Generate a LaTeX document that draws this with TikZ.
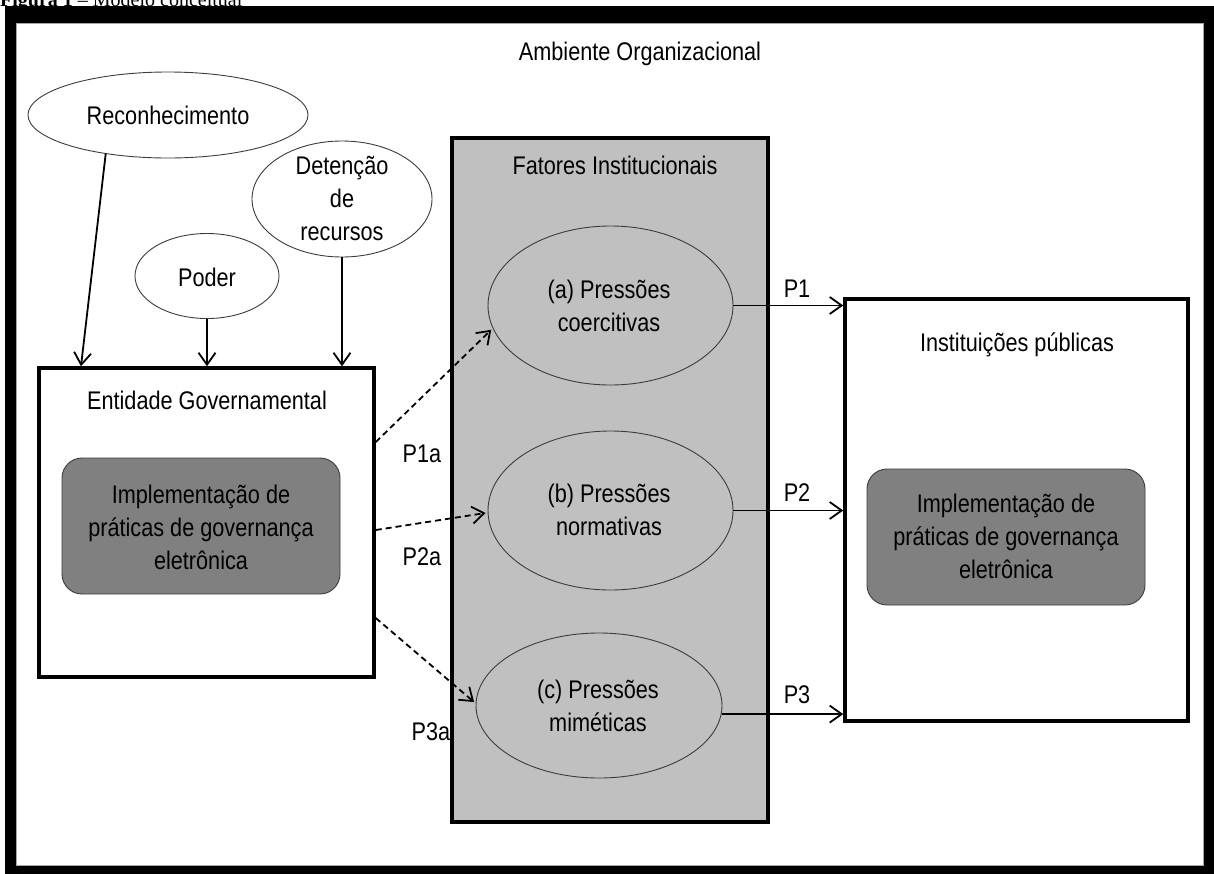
\documentclass[tikz,border=0pt]{standalone}
\usepackage{fontspec}
\setmainfont{Liberation Sans}[FakeStretch=0.85]
\newfontfamily\capfont{Liberation Serif}
\usetikzlibrary{shapes.geometric,arrows.meta,calc}
\definecolor{grayfi}{RGB}{192,192,192}
\definecolor{implgray}{RGB}{128,128,128}
\definecolor{edgegray}{RGB}{60,60,60}
\begin{document}
\begin{tikzpicture}[x=1pt,y=-1pt,
  txt/.style={font=\fontsize{25.5}{33}\selectfont, inner sep=0pt, align=center},
  ell/.style={ellipse, draw=edgegray, line width=0.9pt, inner sep=0pt},
  whiteell/.style={ell, fill=white},
  grayell/.style={ell, fill=grayfi},
  bigbox/.style={rectangle, draw=black, line width=3.5pt, fill=white, inner sep=0pt},
  implbox/.style={rectangle, rounded corners=20pt, draw=edgegray, line width=0.9pt, fill=implgray, inner sep=0pt, minimum width=278pt, minimum height=136pt},
  arr/.style={line width=1.8pt, -{Straight Barb[length=12pt,width=17pt]}},
  darr/.style={arr, dash pattern=on 6pt off 4pt},
]
\useasboundingbox (0,0) rectangle (1214,873);
% caption (cut at top)
\node[anchor=base west, inner sep=0pt, font=\capfont\fontsize{20}{24}\selectfont] (cap) at (0,6) {\textbf{Figura 1} – Modelo conceitual};
% outer frame
\fill[black] (5,6) rectangle (1240,900);
\fill[white] (16,23) rectangle (1203,865);
\draw[gray!70, line width=0.8pt] (16,23) rectangle (1203,865);
\node[txt, anchor=base] (amb) at (640,60) {Ambiente Organizacional};

% top ellipses
\node[whiteell, minimum width=280pt, minimum height=86pt] (rec) at (168,115) {};
\node[txt] (rect) at (rec.center) {Reconhecimento};
\node[whiteell, minimum width=180pt, minimum height=116pt] (det) at (342,199) {};
\node[txt] (dett) at (342,198) {Detenção\\de\\recursos};
\node[whiteell, minimum width=144pt, minimum height=85pt] (pod) at (207,276) {};
\node[txt] (podt) at (207,277) {Poder};

% left box
\node[bigbox, minimum width=335pt, minimum height=309pt] (eg) at (206.5,522.5) {};
\node[txt] (egt) at (207,400) {Entidade Governamental};
\node[implbox] (impl1) at (201,526) {};
\node[txt] (impl1t) at (201,527) {Implementação de\\práticas de governança\\eletrônica};

% institutional factors
\node[bigbox, fill=grayfi, minimum width=316pt, minimum height=684pt] (fi) at (610,480) {};
\node[txt] (fit) at (615,165) {Fatores Institucionais};
\node[grayell, minimum width=245pt, minimum height=159pt] (a) at (610.5,305.5) {};
\node[txt] (at) at (609,306) {(a) Pressões\\coercitivas};
\node[grayell, minimum width=245pt, minimum height=159pt] (b) at (610.5,510.5) {};
\node[txt] (bt) at (609,510) {(b) Pressões\\normativas};
\node[grayell, minimum width=246pt, minimum height=145pt] (c) at (599,705.5) {};
\node[txt] (ct) at (598,706) {(c) Pressões\\miméticas};

% right box
\node[bigbox, minimum width=343pt, minimum height=422pt] (ib) at (1016.5,510) {};
\node[txt] (ibt) at (1017,345) {Instituições públicas};
\node[implbox] (impl2) at (1006,537) {};
\node[txt] (impl2t) at (1006,536) {Implementação de\\práticas de governança\\eletrônica};

% arrows into left box
\draw[arr] (rec.212) -- ([xshift=-125.5pt]eg.north);
\draw[arr] (pod.south) -- (pod.south |- eg.north);
\draw[arr] (det.south) -- (det.south |- eg.north);

% dashed arrows
\draw[darr, shorten >=2pt] ([yshift=80.5pt]eg.east) -- (a.191);
\draw[darr, shorten >=2pt] ([yshift=-7.5pt]eg.east) -- (b.181);
\draw[darr, shorten >=2pt] ([yshift=-95.5pt]eg.east) -- (c.179);
\node[txt] (p1a) at (422,454) {P1a};
\node[txt] (p2a) at (422,557) {P2a};
\node[txt] (p3a) at (431,732) {P3a};

% solid arrows
\draw[arr] (a.east) -- (a.east -| ib.west);
\draw[arr] (b.east) -- (b.east -| ib.west);
\draw[arr] (c.-4) -- (c.-4 -| ib.west);
\node[txt] (p1) at (797,289) {P1};
\node[txt] (p2) at (797,493) {P2};
\node[txt] (p3) at (797,695) {P3};
\end{tikzpicture}
\end{document}
